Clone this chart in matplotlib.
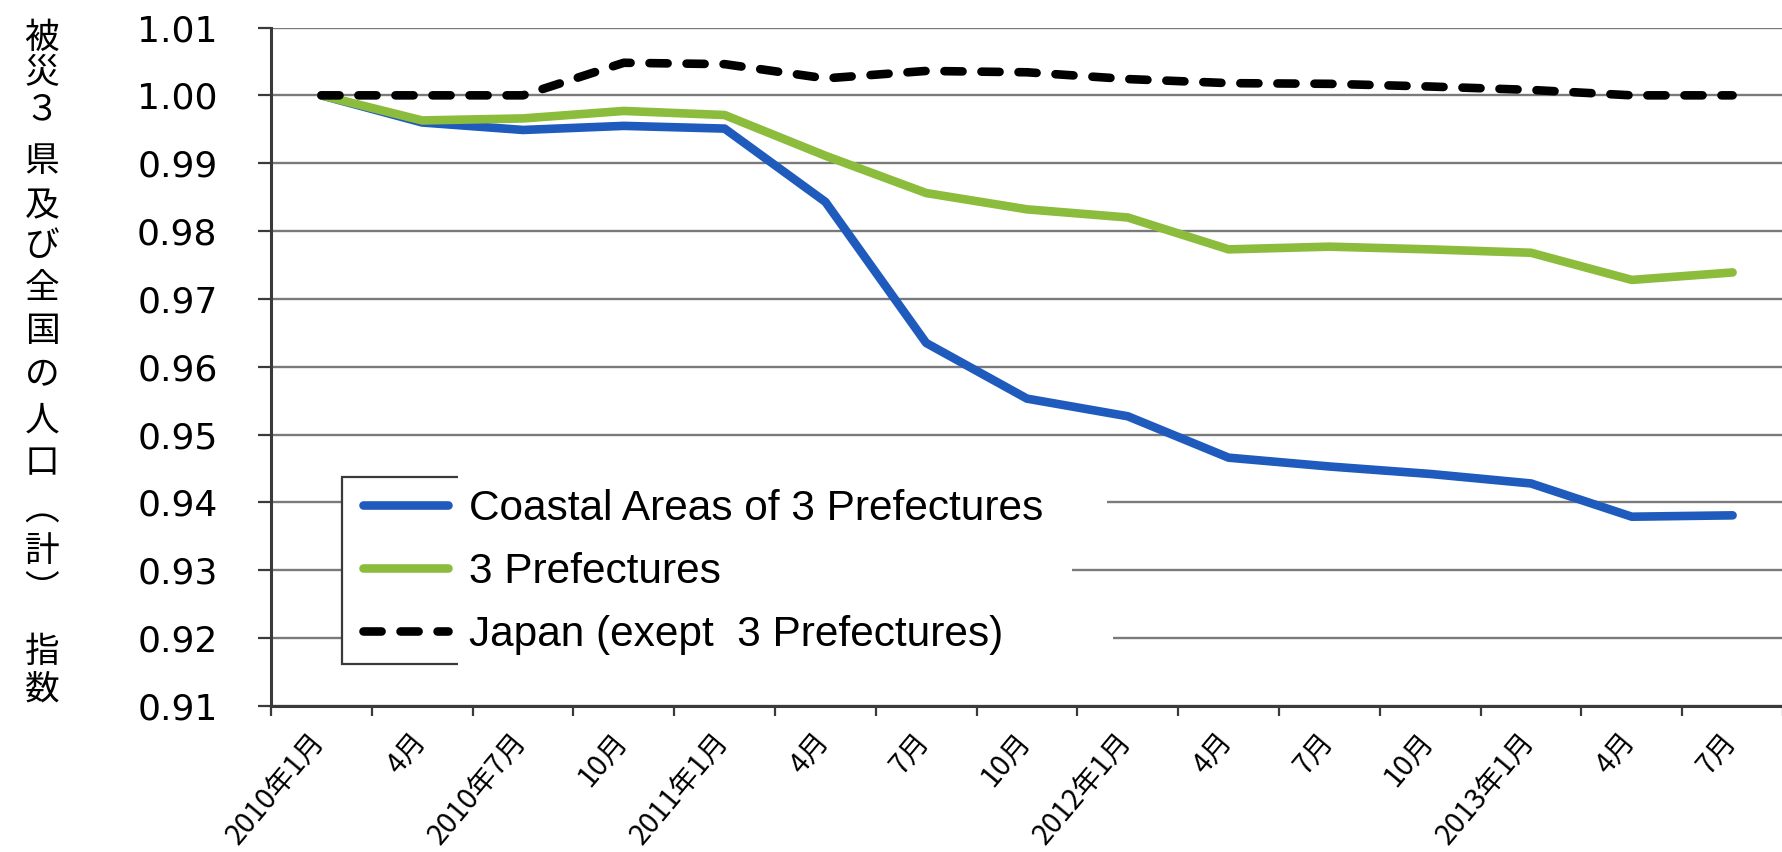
import matplotlib
matplotlib.use('Agg')
import numpy as np
import matplotlib.pyplot as plt
from matplotlib.patches import Rectangle
from matplotlib.transforms import ScaledTranslation

# quarterly population index (2010年1月 = 1.00)
months = ['2010年1月', '4月', '2010年7月', '10月', '2011年1月', '4月', '7月', '10月',
          '2012年1月', '4月', '7月', '10月', '2013年1月', '4月', '7月']
coastal = [1.0000, 0.9960, 0.9949, 0.9955, 0.9951, 0.9843, 0.9635, 0.9553, 0.9527,
           0.9466, 0.9453, 0.9442, 0.9428, 0.9379, 0.9381]
pref3 = [1.0000, 0.9963, 0.9966, 0.9977, 0.9971, 0.9911, 0.9856, 0.9832, 0.9820,
         0.9773, 0.9777, 0.9773, 0.9768, 0.9728, 0.9739]
japan = [1.0000, 1.0000, 1.0000, 1.0048, 1.0046, 1.0025, 1.0036, 1.0034, 1.0024,
         1.0018, 1.0017, 1.0013, 1.0008, 1.0000, 1.0000]
series_names = ['Coastal Areas of 3 Prefectures', '3 Prefectures',
                'Japan (exept  3 Prefectures)']
yticks = [0.91, 0.92, 0.93, 0.94, 0.95, 0.96, 0.97, 0.98, 0.99, 1.00, 1.01]
ylabel_chars = ['被', '災', '３', '県', '及', 'び', '全', '国', 'の', '人', '口',
                '︵', '計', '︶', '指', '数']

W, H = 1783, 852
fig = plt.figure(figsize=(W / 100, H / 100), dpi=100)
ax = fig.add_axes([271 / W, 1 - 706 / H, (W - 271) / W, (706 - 27.5) / H])

x = np.arange(len(months))
ax.plot(x, coastal, color='#1f5bbd', lw=6.2, solid_capstyle='round',
        solid_joinstyle='round', zorder=3)
ax.plot(x, pref3, color='#8cbc3c', lw=6.2, solid_capstyle='round',
        solid_joinstyle='round', zorder=3)
ax.plot(x, japan, color='black', lw=6.2, dashes=(2.1, 2.2),
        dash_capstyle='round', dash_joinstyle='round', zorder=4)

ax.set_xlim(-0.5, len(months) - 0.5)
ax.set_ylim(0.91, 1.01)
ax.set_yticks(yticks)
ax.set_yticklabels([f'{v:.2f}' for v in yticks])
ax.grid(axis='y', color='#7a7a7a', lw=1.7)
ax.set_axisbelow(True)

for side in ['top', 'right']:
    ax.spines[side].set_visible(False)
for side in ['left', 'bottom']:
    ax.spines[side].set_color('#3a3a3a')
    ax.spines[side].set_linewidth(2.2)

ax.tick_params(axis='y', length=9.5, width=1.6, color='#3a3a3a', pad=29,
               labelsize=26)
ax.set_xticks(x)
ax.set_xticklabels(months, rotation=50, ha='right', va='top',
                   rotation_mode='anchor', fontsize=20.5, family='Noto Sans CJK JP')
ax.tick_params(axis='x', which='major', length=0, pad=15)
ax.set_xticks(np.arange(-0.5, len(months), 1), minor=True)
ax.tick_params(axis='x', which='minor', length=7, width=1.6, color='#3a3a3a')
# nudge the slanted month labels a little left of their category centres
shift = ScaledTranslation(-0.13, 0, fig.dpi_scale_trans)
for lbl in ax.get_xticklabels():
    lbl.set_transform(lbl.get_transform() + shift)

# legend frame, partly hidden behind the white label boxes
fig.add_artist(Rectangle((342 / W, 1 - 664 / H), (480 - 342) / W, (664 - 477) / H,
                         transform=fig.transFigure, facecolor='white',
                         edgecolor='#3a3a3a', lw=1.6, zorder=2))
for x0, x1, y0, y1 in [(458, 1107, 475, 538), (458, 1072, 538, 602),
                       (458, 1113, 602, 668)]:
    fig.add_artist(Rectangle((x0 / W, 1 - y1 / H), (x1 - x0) / W, (y1 - y0) / H,
                             transform=fig.transFigure, facecolor='white',
                             edgecolor='none', zorder=3))

leg = fig.legend(handles=ax.lines, labels=series_names, loc='upper left',
                 bbox_to_anchor=(363 / W, 1 - 489 / H), frameon=False,
                 prop={'family': 'Liberation Sans', 'size': 30.5},
                 handlelength=2.0, handletextpad=0.5, labelspacing=0.54,
                 borderpad=0, borderaxespad=0)
leg.set_zorder(5)

# vertical axis title, one character per line
ylabel_pos = [38, 74, 110, 162, 207, 246, 288, 331, 376, 421, 464, 510, 552, 590,
              652, 690]
for ch, yp in zip(ylabel_chars, ylabel_pos):
    fig.text(42 / W, 1 - yp / H, ch, ha='center', va='center', fontsize=25,
             family='Noto Sans CJK JP')

fig.savefig('out.png', dpi=100)
